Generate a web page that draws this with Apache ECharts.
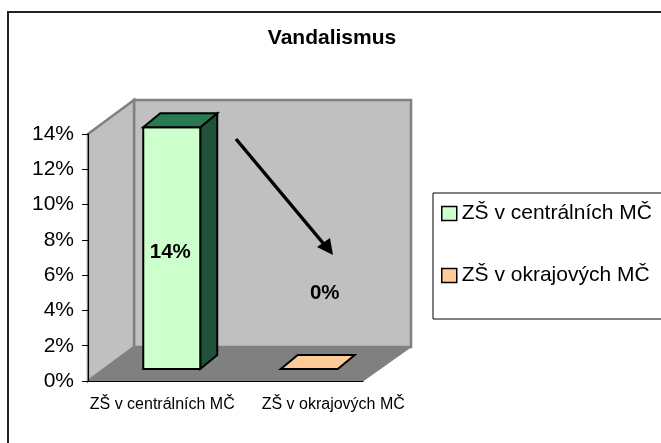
<!DOCTYPE html>
<html>
<head>
<meta charset="utf-8">
<style>
  html, body { margin: 0; padding: 0; background: #fff; }
  #main { width: 661px; height: 443px; }
</style>
</head>
<body>
<div id="main"></div>
<script src="https://cdn.jsdelivr.net/npm/echarts@6/dist/echarts.min.js"></script>
<script>
var titleText = 'Vandalismus'
var categories = ['ZŠ v centrálních MČ', 'ZŠ v okrajových MČ']
var yTicks = [0, 0.02, 0.04, 0.06, 0.08, 0.1, 0.12, 0.14]
var centralValues = [0.137]
var okrajoveValues = [0]

var FONT = '"Liberation Sans", Arial, sans-serif'
// hloubka 3D steny a sloupce
var WALL_DX = 46
var WALL_DY = 34
var BAR_DX = 17
var BAR_DY = 14
var BAR_SHIFT_X = 15
var BAR_SHIFT_Y = 12
var BAR_WIDTH = 57

function pct (v) {
  return Math.round(v * 100) + '%'
}

function poly (points, fill, stroke, width) {
  return {
    type: 'polygon',
    shape: {points: points},
    style: {fill: fill, stroke: stroke, lineWidth: width, lineJoin: 'miter'}
  }
}

function renderWalls (params) {
  var c = params.coordSys
  var x0 = c.x
  var x1 = c.x + c.width
  var y0 = c.y
  var y1 = c.y + c.height
  var dx = WALL_DX
  var dy = WALL_DY
  return {
    type: 'group',
    children: [
      poly([[x0 + dx, y0 - dy], [x1 + dx + 2, y0 - dy], [x1 + dx + 2, y1 - dy], [x0 + dx, y1 - dy]], '#c0c0c0', '#808080', 2.5),
      poly([[x0, y0], [x0 + dx, y0 - dy], [x0 + dx, y1 - dy], [x0, y1]], '#c0c0c0', '#808080', 2.5),
      poly([[x0, y1], [x0 + dx, y1 - dy], [x1 + dx + 2, y1 - dy], [x1, y1]], '#808080', '#808080', 1)
    ]
  }
}

function makeBarRenderer (colors, labelDx, labelDy) {
  return function (params, api) {
    var idx = api.value(0)
    var val = api.value(1)
    var top = api.coord([idx, val])
    var base = api.coord([idx, 0])
    var left = top[0] + BAR_SHIFT_X - BAR_WIDTH / 2
    var right = left + BAR_WIDTH
    var yTop = top[1] - BAR_SHIFT_Y
    var yBase = base[1] - BAR_SHIFT_Y
    var children = []
    if (val > 0) {
      children.push(poly([[right, yTop], [right + BAR_DX, yTop - BAR_DY], [right + BAR_DX, yBase - BAR_DY], [right, yBase]], colors.side, '#000', 2))
      children.push(poly([[left, yTop], [right, yTop], [right, yBase], [left, yBase]], colors.front, '#000', 2))
    }
    children.push(poly([[left, yTop], [left + BAR_DX, yTop - BAR_DY], [right + BAR_DX, yTop - BAR_DY], [right, yTop]], colors.top, '#000', 2))
    children.push({
      type: 'text',
      style: {
        x: (left + right) / 2 + labelDx,
        y: (yTop + yBase) / 2 + labelDy,
        text: pct(val),
        fill: '#000',
        font: 'bold 20.5px ' + FONT,
        align: 'center',
        verticalAlign: 'middle'
      }
    })
    return {type: 'group', children: children}
  }
}

var myChart = echarts.init(document.getElementById('main'), null, {renderer: 'canvas'})
myChart.setOption({
  animation: false,
  backgroundColor: '#fff',
  title: {
    text: titleText,
    left: 332,
    top: 28,
    padding: 0,
    textAlign: 'center',
    textStyle: {fontFamily: FONT, fontSize: 21, fontWeight: 'bold', color: '#000'}
  },
  grid: {left: 88, top: 134, width: 275, height: 247},
  legend: {
    orient: 'vertical',
    left: 433,
    top: 193,
    data: categories,
    icon: 'rect',
    itemWidth: 15,
    itemHeight: 14,
    itemGap: 41,
    padding: [10, 30, 33, 8],
    borderColor: '#000',
    borderWidth: 1,
    itemStyle: {borderColor: '#000', borderWidth: 1.5},
    textStyle: {fontFamily: FONT, fontSize: 21, color: '#000'}
  },
  xAxis: {
    type: 'category',
    data: categories,
    z: 3,
    axisLine: {lineStyle: {color: '#000', width: 1}},
    axisTick: {length: 5, lineStyle: {color: '#000'}},
    axisLabel: {
      margin: 16,
      interval: 0,
      fontFamily: FONT,
      fontSize: 16,
      color: '#000',
      formatter: function (v, i) {
        return '{l' + i + '|' + v + '}'
      },
      rich: {
        l0: {padding: [0, 0, 0, 11], fontFamily: FONT, fontSize: 16, color: '#000'},
        l1: {padding: [0, 0, 0, 78], fontFamily: FONT, fontSize: 16, color: '#000'}
      }
    }
  },
  yAxis: {
    type: 'value',
    min: yTicks[0],
    max: yTicks[yTicks.length - 1],
    interval: 0.02,
    z: 3,
    splitLine: {show: false},
    axisLine: {show: true, lineStyle: {color: '#000', width: 1}},
    axisTick: {show: true, length: 6, lineStyle: {color: '#000'}},
    axisLabel: {
      margin: 14,
      fontFamily: FONT,
      fontSize: 21,
      color: '#000',
      formatter: pct
    }
  },
  graphic: [
    // ramecek grafu
    {
      type: 'rect',
      z: 0,
      shape: {x: 8, y: 12, width: 670, height: 450},
      style: {fill: 'none', stroke: '#222', lineWidth: 2}
    },
    // sipka
    {
      type: 'line',
      z: 100,
      shape: {x1: 236, y1: 139, x2: 328, y2: 249},
      style: {stroke: '#000', lineWidth: 3.5}
    },
    {
      type: 'polygon',
      z: 100,
      shape: {points: [[333, 255], [317, 247], [330, 238]]},
      style: {fill: '#000'}
    }
  ],
  series: [
    {
      name: 'walls',
      type: 'custom',
      z: 1,
      silent: true,
      renderItem: renderWalls,
      data: [[0, 0]]
    },
    {
      name: categories[0],
      type: 'custom',
      z: 4,
      itemStyle: {color: '#ccffcc'},
      renderItem: makeBarRenderer({front: '#ccffcc', side: '#1f5238', top: '#297a52'}, -1.5, 4.5),
      data: centralValues.map(function (v) { return [0, v] })
    },
    {
      name: categories[1],
      type: 'custom',
      z: 4,
      itemStyle: {color: '#ffcc99'},
      renderItem: makeBarRenderer({front: '#ffcc99', side: '#ffcc99', top: '#ffcc99'}, 15.5, -76),
      data: okrajoveValues.map(function (v) { return [1, v] })
    }
  ]
})
</script>
</body>
</html>
